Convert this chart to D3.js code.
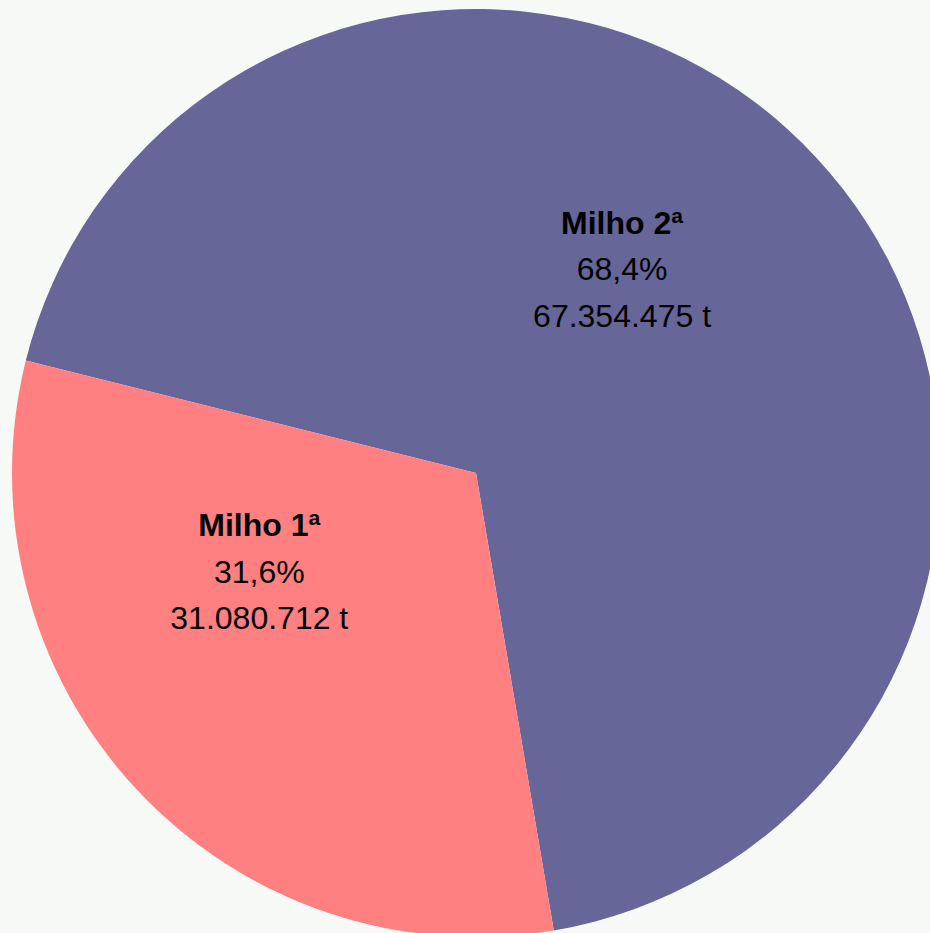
<!DOCTYPE html>
<html>
<head>
<meta charset="utf-8">
<script src="https://cdn.jsdelivr.net/npm/d3@7"></script>
<style>
  html, body { margin: 0; padding: 0; background: #f7f9f6; }
  svg { display: block; }
</style>
</head>
<body>
<div id="chart"></div>
<script>
// ---- data ----
const categories = ["Milho 2ª", "Milho 1ª"];
const tonnes = [67354475, 31080712];
const percentLabels = ["68,4%", "31,6%"];
const tonneLabels = ["67.354.475 t", "31.080.712 t"];
const colors = ["#666699", "#ff8080"];
// label placement relative to slice mid-angle (degrees) and radius
const labelAngleNudge = [-11.6, 18.4];
const labelRadius = [251, 238];

const width = 930, height = 933;
const cx = 476, cy = 473, radius = 464;
const startDeg = -75.98;

const svg = d3.select("#chart").append("svg")
  .attr("width", width).attr("height", height);

svg.append("rect").attr("width", width).attr("height", height).attr("fill", "#f7f9f6");

const data = categories.map((c, i) => ({
  name: c, value: tonnes[i], pct: percentLabels[i], t: tonneLabels[i],
  color: colors[i], nudge: labelAngleNudge[i], lr: labelRadius[i]
}));

const pie = d3.pie().sort(null).value(d => d.value)
  .startAngle(startDeg * Math.PI / 180)
  .endAngle(startDeg * Math.PI / 180 + 2 * Math.PI);

const arcs = pie(data);
const arc = d3.arc().innerRadius(0).outerRadius(radius);

const g = svg.append("g").attr("transform", `translate(${cx},${cy})`);

g.selectAll("path.slice").data(arcs).enter().append("path")
  .attr("class", "slice")
  .attr("d", arc)
  .attr("fill", d => d.data.color);

const labels = g.selectAll("g.label").data(arcs).enter().append("g")
  .attr("class", "label")
  .attr("transform", d => {
    const mid = (d.startAngle + d.endAngle) / 2 + d.data.nudge * Math.PI / 180;
    const [x, y] = d3.pointRadial(mid, d.data.lr);
    return `translate(${x},${y})`;
  });

const fontFam = "Liberation Sans, Arial, Helvetica, sans-serif";
const fs = 32, lh = 46.5;
labels.append("text").attr("y", -lh).attr("dy", "0.35em")
  .attr("text-anchor", "middle").attr("font-family", fontFam)
  .attr("font-size", fs).attr("font-weight", "bold").attr("fill", "#000")
  .text(d => d.data.name);
labels.append("text").attr("y", 0).attr("dy", "0.35em")
  .attr("text-anchor", "middle").attr("font-family", fontFam)
  .attr("font-size", fs).attr("fill", "#000")
  .text(d => d.data.pct);
labels.append("text").attr("y", lh).attr("dy", "0.35em")
  .attr("text-anchor", "middle").attr("font-family", fontFam)
  .attr("font-size", fs).attr("fill", "#000")
  .text(d => d.data.t);
</script>
</body>
</html>
